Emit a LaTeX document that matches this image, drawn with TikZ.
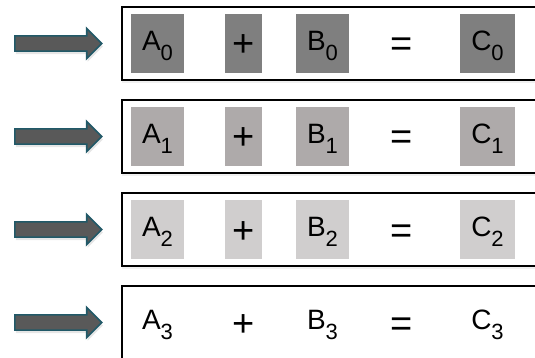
\documentclass[tikz,border=0pt]{standalone}
\usepackage{fontspec}
\setmainfont{Liberation Sans}
\usetikzlibrary{shapes.arrows,shadows}
\definecolor{ink}{HTML}{000000}
\definecolor{arrowfill}{HTML}{595959}
\definecolor{arrowedge}{HTML}{215968}
\definecolor{cellgrayA}{HTML}{7F7F7F}
\definecolor{cellgrayB}{HTML}{AEAAAA}
\definecolor{cellgrayC}{HTML}{D0CECE}
\newcommand{\idx}[1]{\raisebox{-10pt}{\fontsize{22}{22}\selectfont #1}}
\tikzset{
  rowbox/.style={draw=ink,fill=white,line width=1.6pt,minimum width=430pt,minimum height=73pt,anchor=west,inner sep=0pt,
    drop shadow={shadow xshift=0pt,shadow yshift=-3pt,opacity=0.12}},
  cell/.style={minimum height=59pt,inner sep=0pt,text height=14pt,text depth=0pt,font=\fontsize{28}{28}\selectfont},
  opcell/.style={cell,text height=27pt,font=\fontsize{38}{38}\selectfont},
  feedarrow/.style={single arrow,draw=arrowedge,fill=arrowfill,line width=1.6pt,inner xsep=0pt,inner ysep=6.8pt,
    minimum width=0pt,minimum height=87pt,single arrow head extend=7.5pt,
    drop shadow={shadow xshift=1pt,shadow yshift=-3pt,opacity=0.2}}
}

\begin{document}
\begin{tikzpicture}[x=1pt,y=-1pt]
  \useasboundingbox (0,0) rectangle (535,358);
  \clip (0,0) rectangle (535,358);

  % one adder row per step, lighter shading further down
  \foreach \r/\shade in {0/cellgrayA,1/cellgrayB,2/cellgrayC,3/white}{
    \pgfmathsetmacro\yc{43.5+93*\r}
    \node[rowbox] (box\r) at (121,\yc) {};
    \node[cell,fill=\shade,minimum width=53pt] (a\r) at (157.5,\yc) {A\idx{\r}};
    \node[opcell,fill=\shade,minimum width=37pt] (plus\r) at (243.5,\yc) {+};
    \node[cell,fill=\shade,minimum width=53pt] (b\r) at (322.5,\yc) {B\idx{\r}};
    \node[opcell,minimum width=37pt] (eq\r) at (402,\yc) {=};
    \node[cell,fill=\shade,minimum width=55pt] (c\r) at (487.5,\yc) {C\idx{\r}};
    \node[feedarrow] (arr\r) at (54.5,\yc) {};
  }
\end{tikzpicture}
\end{document}
